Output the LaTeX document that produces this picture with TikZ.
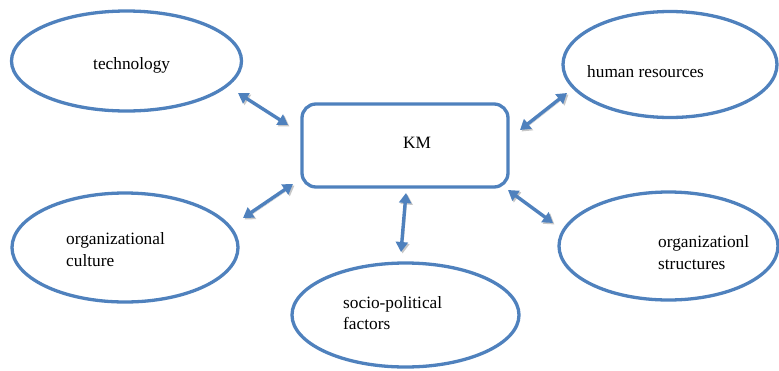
\documentclass[tikz,border=0pt]{standalone}
\usepackage{fontspec}
\setmainfont{Liberation Serif}
\usetikzlibrary{arrows.meta,shapes.geometric}
\definecolor{kmblue}{RGB}{79,129,189}
\tikzset{
  oval/.style={ellipse, draw=kmblue, line width=3.3pt, inner sep=0pt},
  kmbox/.style={rectangle, rounded corners=14pt, draw=kmblue, line width=3.3pt, inner sep=0pt},
  lbl/.style={anchor=base west, inner sep=0pt, font=\fontsize{17.3}{20}\selectfont, text=black},
  link/.style={draw=kmblue, line width=3.4pt, {Triangle[length=10pt,width=12pt]}-{Triangle[length=10pt,width=12pt]},
    preaction={draw=black!22, transform canvas={shift={(1.5pt,-1.5pt)}}}}
}
\begin{document}
\begin{tikzpicture}[x=1pt,y=-1pt]
\useasboundingbox (0,0) rectangle (779,370);
% shapes
\node[kmbox, minimum width=206pt, minimum height=83pt] (km) at (405,145.5) {};
\node[oval, minimum width=230pt, minimum height=100pt] (tech) at (126.5,61) {};
\node[oval, minimum width=214pt, minimum height=106pt] (hr) at (670,64.5) {};
\node[oval, minimum width=226pt, minimum height=109pt] (cult) at (125,247.5) {};
\node[oval, minimum width=227pt, minimum height=104pt] (socio) at (405.5,315) {};
\node[oval, minimum width=219pt, minimum height=108pt] (struct) at (668.5,246) {};
% texts
\node[lbl] (ttech) at (93,69) {technology};
\node[lbl] (thr) at (587,77) {human resources};
\node[lbl] (tkm) at (403,148) {KM};
\node[lbl] (tcult1) at (66,244) {organizational};
\node[lbl] (tcult2) at (66,266) {culture};
\node[lbl] (tsocio1) at (343,308.5) {socio-political};
\node[lbl] (tsocio2) at (343,329.5) {factors};
\node[lbl] (tstruct1) at (658,247) {organizationl};
\node[lbl] (tstruct2) at (658,269) {structures};
% connector ends
\coordinate (a1) at (238,93);   \coordinate (b1) at (288,125);
\coordinate (a2) at (520,130);  \coordinate (b2) at (567,93);
\coordinate (a3) at (293,184);  \coordinate (b3) at (243,218);
\coordinate (a4) at (406,193);  \coordinate (b4) at (401,252);
\coordinate (a5) at (508,190);  \coordinate (b5) at (553,223);
\draw[link] (b1) -- (a1);
\draw[link] (a2) -- (b2);
\draw[link] (a3) -- (b3);
\draw[link] (a4) -- (b4);
\draw[link] (a5) -- (b5);
\end{tikzpicture}
\end{document}
